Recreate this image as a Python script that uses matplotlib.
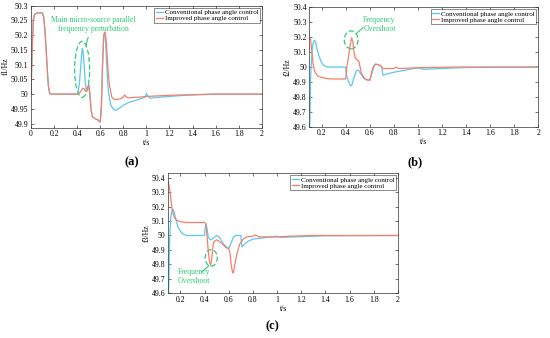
import matplotlib
matplotlib.use("Agg")
import matplotlib.pyplot as plt
from matplotlib.patches import Ellipse

plt.rcParams['font.family'] = ['Liberation Serif', 'DejaVu Serif']
plt.rcParams['mathtext.fontset'] = 'stix'

# ---------------- data ----------------
labels = ["Conventional phase angle control", "Improved phase angle control"]
colors = ["#5cc8f2", "#f4806c"]
green = "#2ecc71"

# Panel (a): f1
t_a_imp = [0.0, 0.01, 0.02, 0.03, 0.05, 0.08, 0.10, 0.11, 0.12, 0.13, 0.14, 0.15, 0.16, 0.17, 0.20, 0.30, 0.40,
           0.42, 0.44, 0.45, 0.46, 0.47, 0.48, 0.49, 0.50, 0.51, 0.52, 0.53, 0.55, 0.58, 0.60, 0.61, 0.62, 0.63,
           0.64, 0.65, 0.66, 0.67, 0.68, 0.70, 0.72, 0.75, 0.78, 0.80, 0.81, 0.82, 0.84, 0.87, 0.95, 1.0,
           1.1, 1.2, 1.4, 1.6, 2.0]
f_a_imp = [50.0, 50.15, 50.25, 50.27, 50.275, 50.276, 50.275, 50.26, 50.22, 50.16, 50.09, 50.03, 50.005, 50.0, 50.0, 50.0, 50.0,
           50.003, 50.015, 50.02, 50.018, 50.01, 50.012, 50.025, 50.03, 50.0, 49.95, 49.925, 49.918, 49.912, 49.905, 49.96, 50.1, 50.2,
           50.21, 50.19, 50.13, 50.07, 50.03, 49.99, 49.982, 49.982, 49.985, 49.99, 49.997, 49.993, 49.987, 49.988, 49.99, 49.992,
           49.994, 49.996, 49.998, 50.0, 50.0]

t_a_con = [0.0, 0.01, 0.02, 0.03, 0.05, 0.08, 0.10, 0.11, 0.12, 0.13, 0.14, 0.15, 0.16, 0.17, 0.20, 0.30, 0.40,
           0.41, 0.42, 0.43, 0.44, 0.445, 0.45, 0.46, 0.47, 0.48, 0.49, 0.50, 0.51, 0.52, 0.53, 0.55, 0.58, 0.60,
           0.61, 0.62, 0.63, 0.64, 0.65, 0.66, 0.67, 0.69, 0.71, 0.73, 0.75, 0.80, 0.85, 0.90, 0.95, 0.99, 1.0,
           1.01, 1.03, 1.1, 1.2, 1.3, 1.4, 1.6, 2.0]
f_a_con = [50.0, 50.15, 50.25, 50.27, 50.275, 50.276, 50.275, 50.26, 50.22, 50.16, 50.09, 50.03, 50.005, 50.0, 50.0, 50.0, 50.0,
           50.01, 50.04, 50.09, 50.14, 50.155, 50.15, 50.1, 50.04, 50.01, 50.015, 50.035, 50.0, 49.95, 49.925, 49.918, 49.912, 49.905,
           49.96, 50.1, 50.2, 50.21, 50.15, 50.07, 50.01, 49.965, 49.95, 49.945, 49.948, 49.962, 49.972, 49.978, 49.984, 49.99, 50.002,
           49.995, 49.986, 49.989, 49.992, 49.995, 49.997, 50.0, 50.0]

# Panel (b): f2
t_b_imp = [0.10, 0.11, 0.12, 0.13, 0.14, 0.15, 0.17, 0.20, 0.25, 0.30, 0.40, 0.405, 0.41, 0.42, 0.43, 0.44, 0.45, 0.46,
           0.47, 0.48, 0.50, 0.51, 0.52, 0.53, 0.55, 0.57, 0.60, 0.61, 0.62, 0.63, 0.64, 0.65, 0.67, 0.69, 0.70, 0.71,
           0.75, 0.80, 0.82, 0.84, 0.90, 1.0, 1.1, 1.3, 2.0]
f_b_imp = [50.2, 50.18, 50.1, 50.02, 49.98, 49.96, 49.94, 49.93, 49.922, 49.92, 49.92, 49.95, 50.0, 50.05, 50.1, 50.16, 50.195, 50.17,
           50.1, 50.06, 50.045, 50.04, 50.0, 49.96, 49.93, 49.915, 49.91, 49.94, 49.98, 50.0, 50.015, 50.02, 50.015, 50.01, 50.0, 49.99,
           49.99, 49.99, 50.0, 49.99, 49.992, 49.995, 49.997, 50.0, 50.0]

t_b_con = [0.10, 0.105, 0.11, 0.12, 0.13, 0.14, 0.15, 0.16, 0.18, 0.20, 0.22, 0.25, 0.30, 0.40, 0.405, 0.42, 0.44,
           0.45, 0.47, 0.49, 0.50, 0.51, 0.53, 0.55, 0.57, 0.60, 0.62, 0.63, 0.64, 0.65, 0.67, 0.69, 0.70, 0.71,
           0.75, 0.80, 0.90, 1.0, 1.05, 1.2, 1.4, 2.0]
f_b_con = [49.55, 49.7, 49.95, 50.1, 50.16, 50.18, 50.17, 50.13, 50.07, 50.03, 50.01, 50.0, 50.0, 50.0, 49.95, 49.91, 49.875,
           49.875, 49.93, 49.975, 49.98, 49.975, 49.95, 49.925, 49.915, 49.915, 49.96, 49.99, 50.01, 50.02, 50.015, 50.01, 50.0, 49.945,
           49.955, 49.965, 49.98, 49.995, 49.985, 49.99, 49.997, 50.0]

# Panel (c): f3
t_c_imp = [0.10, 0.11, 0.12, 0.13, 0.14, 0.15, 0.17, 0.20, 0.25, 0.30, 0.40, 0.41, 0.42, 0.43, 0.44, 0.45, 0.46,
           0.47, 0.48, 0.50, 0.52, 0.55, 0.58, 0.60, 0.61, 0.62, 0.63, 0.635, 0.64, 0.65, 0.67, 0.69, 0.72, 0.75,
           0.80, 0.82, 0.85, 0.90, 1.0, 1.1, 1.3, 2.0]
f_c_imp = [50.37, 50.33, 50.26, 50.19, 50.15, 50.125, 50.105, 50.095, 50.09, 50.09, 50.09, 50.08, 50.0, 49.9, 49.82, 49.795, 49.84,
           49.93, 49.96, 49.97, 49.96, 49.94, 49.915, 49.91, 49.88, 49.8, 49.75, 49.74, 49.75, 49.8, 49.88, 49.94, 49.975, 49.99,
           49.995, 50.005, 49.99, 49.99, 49.99, 49.995, 50.0, 50.0]

t_c_con = [0.10, 0.105, 0.11, 0.12, 0.13, 0.14, 0.15, 0.16, 0.18, 0.20, 0.22, 0.25, 0.30, 0.40, 0.405, 0.41, 0.42,
           0.43, 0.45, 0.47, 0.50, 0.52, 0.55, 0.58, 0.60, 0.62, 0.64, 0.66, 0.70, 0.705, 0.71, 0.73, 0.76, 0.80,
           0.90, 1.0, 1.02, 1.05, 1.2, 1.4, 2.0]
f_c_con = [49.55, 49.7, 49.95, 50.12, 50.17, 50.18, 50.16, 50.12, 50.06, 50.03, 50.01, 50.0, 50.0, 50.0, 50.05, 50.08, 50.05,
           49.99, 49.97, 49.98, 50.0, 49.99, 49.95, 49.92, 49.91, 49.95, 49.99, 50.0, 50.0, 49.95, 49.92, 49.94, 49.96, 49.975,
           49.985, 49.995, 49.99, 49.987, 49.992, 49.998, 50.0]

panels = [
    dict(pos=[0.0564, 0.6222, 0.4195, 0.361], tc=t_a_con, fc=f_a_con, ti=t_a_imp, fi=f_a_imp,
         xlim=(0, 2), ylim=(49.886, 50.3), xt=[0, 0.2, 0.4, 0.6, 0.8, 1, 1.2, 1.4, 1.6, 1.8, 2],
         yt=[49.9, 49.95, 50, 50.05, 50.1, 50.15, 50.2, 50.25, 50.3], ylabel="f1/Hz", tag="(a)",
         tagxy=(132, 162)),
    dict(pos=[0.5627, 0.6251, 0.416, 0.3532], tc=t_b_con, fc=f_b_con, ti=t_b_imp, fi=f_b_imp,
         xlim=(0.1, 2), ylim=(49.6, 50.4), xt=[0.2, 0.4, 0.6, 0.8, 1, 1.2, 1.4, 1.6, 1.8, 2],
         yt=[49.6, 49.7, 49.8, 49.9, 50, 50.1, 50.2, 50.3, 50.4], ylabel="f2/Hz", tag="(b)",
         tagxy=(415, 162)),
    dict(pos=[0.306, 0.1322, 0.4176, 0.355], tc=t_c_con, fc=f_c_con, ti=t_c_imp, fi=f_c_imp,
         xlim=(0.1, 2), ylim=(49.6, 50.43), xt=[0.2, 0.4, 0.6, 0.8, 1, 1.2, 1.4, 1.6, 1.8, 2],
         yt=[49.6, 49.7, 49.8, 49.9, 50, 50.1, 50.2, 50.3, 50.4], ylabel="f3/Hz", tag="(c)",
         tagxy=(272, 326)),
]

W, H = 550, 338
fig = plt.figure(figsize=(5.5, 3.38), dpi=100)
axes = []
for p in panels:
    ax = fig.add_axes(p["pos"])
    axes.append(ax)
    ax.plot(p["tc"], p["fc"], color=colors[0], lw=0.9, label=labels[0])
    ax.plot(p["ti"], p["fi"], color=colors[1], lw=0.9, label=labels[1])
    ax.set_xlim(*p["xlim"])
    ax.set_ylim(*p["ylim"])
    ax.set_xticks(p["xt"])
    ax.set_xticklabels([f"{v:g}" for v in p["xt"]])
    ax.set_yticks(p["yt"])
    ax.set_yticklabels([f"{v:g}" for v in p["yt"]])
    ax.tick_params(direction="in", top=True, right=True, labelsize=5.6, length=2, width=0.4, pad=2)
    for s in ax.spines.values():
        s.set_linewidth(0.5)
        s.set_color("#333333")
    ax.set_xlabel("t/s", fontsize=5.6, labelpad=0.5)
    ax.set_ylabel(p["ylabel"], fontsize=5.6, labelpad=1)
    leg = ax.legend(loc="upper right", fontsize=5.0, frameon=True, fancybox=False,
                    handlelength=1.0, handletextpad=0.3, borderpad=0.2, labelspacing=0.05,
                    borderaxespad=0.3)
    leg.get_frame().set_edgecolor("black")
    leg.get_frame().set_linewidth(0.4)
    fig.text(p["tagxy"][0] / W, 1 - p["tagxy"][1] / H, p["tag"], fontsize=9, fontweight="bold",
             ha="center", va="center")

# annotations
ax = axes[0]
ax.add_patch(Ellipse((0.443, 50.084), 0.13, 0.19, angle=0, fill=False, ec=green, ls=(0, (4, 2)), lw=0.9))
ax.plot([0.475, 0.495], [50.165, 50.192], color=green, lw=0.8)
ax.text(0.54, 50.236, "Main micro-source parallel\nfrequency perturbation", color=green, fontsize=5.6,
        ha="center", va="center", linespacing=1.15)

ax = axes[1]
ax.add_patch(Ellipse((0.446, 50.182), 0.115, 0.12, fill=False, ec=green, ls=(0, (4, 2)), lw=0.9))
ax.plot([0.49, 0.545], [50.225, 50.265], color=green, lw=0.8)
ax.text(0.68, 50.285, "Frequency\nOvershoot", color=green, fontsize=5.6, ha="center", va="center",
        linespacing=1.15)

ax = axes[2]
ax.add_patch(Ellipse((0.455, 49.845), 0.1, 0.115, fill=False, ec=green, ls=(0, (4, 2)), lw=0.9))
ax.plot([0.435, 0.38], [49.79, 49.75], color=green, lw=0.8)
ax.text(0.31, 49.715, "Frequency\nOvershoot", color=green, fontsize=5.6, ha="center", va="center",
        linespacing=1.15)

fig.savefig("out.png", dpi=100)
